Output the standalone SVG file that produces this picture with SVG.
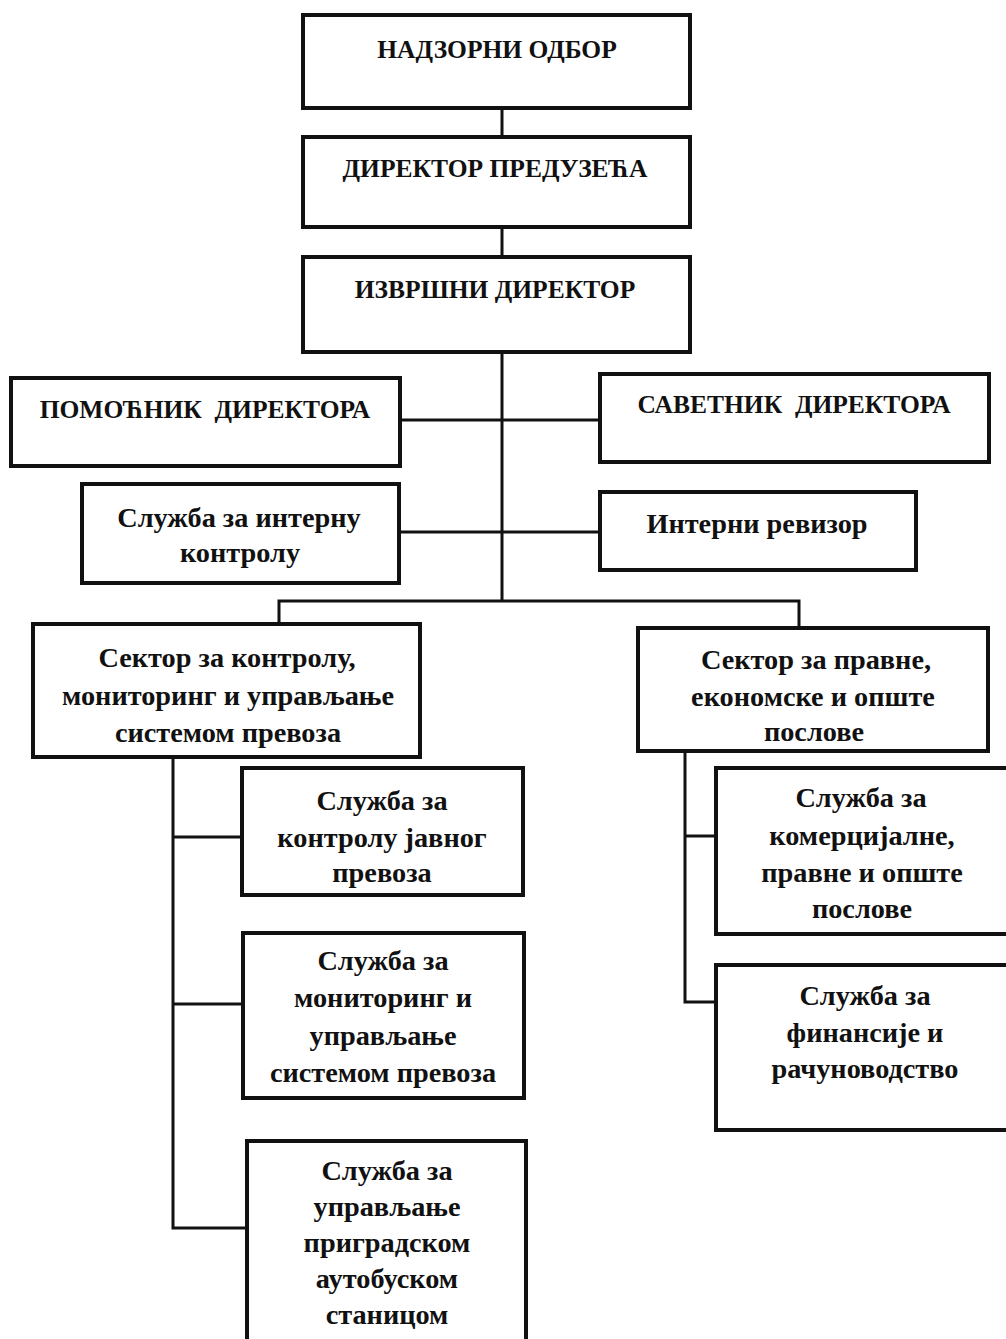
<svg xmlns="http://www.w3.org/2000/svg" width="1006" height="1339" viewBox="0 0 1006 1339">
<style>
.box{fill:#fff;stroke:#111;stroke-width:4}
.ln{fill:none;stroke:#111;stroke-width:3}
text{font-family:"Liberation Serif","Times New Roman",serif;font-weight:bold;fill:#111;text-anchor:middle}
.cap{font-size:25.5px}
.t{font-size:28.3px}
</style>
<rect width="1006" height="1339" fill="#fff"/>
<g id="connectors">
<path class="ln" d="M502 108V137M502 227V257M502 352V601"/>
<path class="ln" d="M400 420H600M399 532H600"/>
<path class="ln" d="M279 624V601H799V628"/>
<path class="ln" d="M173 757V1228H248M173 837H242M173 1004H243"/>
<path class="ln" d="M685 751V1002H716M685 836H716"/>
</g>
<g id="n1"><rect class="box" x="303" y="15" width="387" height="93"/><text class="cap" x="497" y="58">НАДЗОРНИ ОДБОР</text></g>
<g id="n2"><rect class="box" x="303" y="137" width="387" height="90"/><text class="cap" x="495" y="177">ДИРЕКТОР ПРЕДУЗЕЋА</text></g>
<g id="n3"><rect class="box" x="303" y="257" width="387" height="95"/><text class="cap" x="495" y="298">ИЗВРШНИ ДИРЕКТОР</text></g>
<g id="n4"><rect class="box" x="11" y="378" width="389" height="88"/><text class="cap" x="205" y="418" xml:space="preserve">ПОМОЋНИК  ДИРЕКТОРА</text></g>
<g id="n5"><rect class="box" x="600" y="374" width="389" height="88"/><text class="cap" x="794" y="413" xml:space="preserve">САВЕТНИК  ДИРЕКТОРА</text></g>
<g id="n6"><rect class="box" x="82" y="484" width="317" height="99"/><text class="t" x="239" y="527">Служба за интерну</text><text class="t" x="240" y="562">контролу</text></g>
<g id="n7"><rect class="box" x="600" y="492" width="316" height="78"/><text class="t" x="757" y="533">Интерни ревизор</text></g>
<g id="n8"><rect class="box" x="33" y="624" width="387" height="133"/><text class="t" x="227" y="667">Сектор за контролу,</text><text class="t" x="228" y="705">мониторинг и управљање</text><text class="t" x="228" y="742">системом превоза</text></g>
<g id="n9"><rect class="box" x="638" y="628" width="350" height="123"/><text class="t" x="816" y="669">Сектор за правне,</text><text class="t" x="813" y="706">економске и опште</text><text class="t" x="814" y="741">послове</text></g>
<g id="n10"><rect class="box" x="242" y="768" width="281" height="127"/><text class="t" x="382" y="810">Служба за</text><text class="t" x="382" y="847">контролу јавног</text><text class="t" x="382" y="882">превоза</text></g>
<g id="n11"><rect class="box" x="243" y="933" width="281" height="165"/><text class="t" x="383" y="970">Служба за</text><text class="t" x="383" y="1007">мониторинг и</text><text class="t" x="383" y="1045">управљање</text><text class="t" x="383" y="1082">системом превоза</text></g>
<g id="n12"><rect class="box" x="247" y="1141" width="279" height="210"/><text class="t" x="387" y="1180">Служба за</text><text class="t" x="387" y="1216">управљање</text><text class="t" x="387" y="1252">приградском</text><text class="t" x="387" y="1288">аутобуском</text><text class="t" x="387" y="1324">станицом</text></g>
<g id="n13"><rect class="box" x="716" y="768" width="300" height="166"/><text class="t" x="861" y="807">Служба за</text><text class="t" x="862" y="845">комерцијалне,</text><text class="t" x="862" y="882">правне и опште</text><text class="t" x="862" y="918">послове</text></g>
<g id="n14"><rect class="box" x="716" y="965" width="300" height="165"/><text class="t" x="865" y="1005">Служба за</text><text class="t" x="865" y="1042">финансије и</text><text class="t" x="865" y="1078">рачуноводство</text></g>
</svg>
